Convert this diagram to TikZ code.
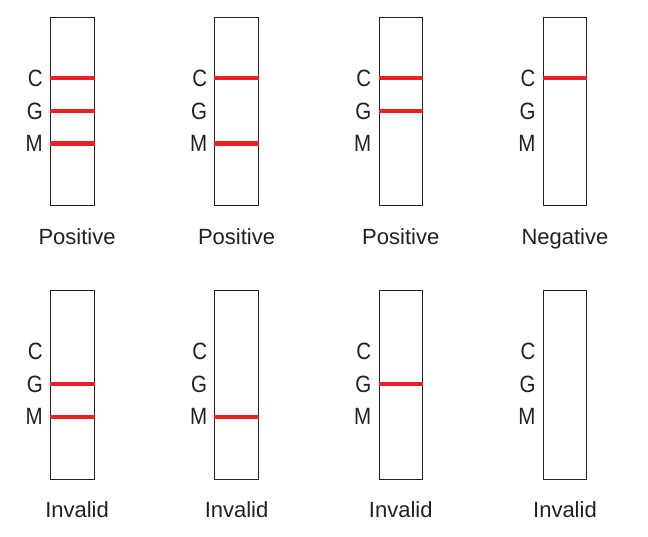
\documentclass[tikz,border=0pt]{standalone}
\usepackage{fontspec}
\setmainfont{Liberation Sans}
\definecolor{ink}{RGB}{35,31,32}
\definecolor{band}{RGB}{237,32,36}
\tikzset{
  stripbox/.style={draw=ink, line width=1pt, minimum width=43.5pt, minimum height=188.5pt, inner sep=0pt, anchor=north west},
  bandline/.style={draw=band, line width=4.2pt},
  letter/.style={text=ink, font=\fontsize{20.5}{20}\selectfont, anchor=east, inner sep=0pt, yscale=1.15},
  result/.style={text=ink, font=\fontsize{22}{22}\selectfont, anchor=base, inner sep=0pt}
}
\begin{document}
\begin{tikzpicture}[x=1pt,y=-1pt]
\useasboundingbox (0,0) rectangle (648,537);
\foreach \n/\xx/\yy/\c/\g/\m/\lab/\lx in {
  s1/50/16.7/1/1/1/Positive/4.8,
  s2/214.3/16.7/1/0/1/Positive/0,
  s3/378.5/16.7/1/1/0/Positive/0,
  s4/542.7/16.7/1/0/0/Negative/0,
  s5/50/290/0/1/1/Invalid/4.8,
  s6/214.3/290/0/0/1/Invalid/0,
  s7/378.5/290/0/1/0/Invalid/0,
  s8/542.7/290/0/0/0/Invalid/0}{
  \node[stripbox] (\n) at (\xx,\yy) {};
  \coordinate (\n c) at ([yshift=-61.5pt]\n.north west);
  \coordinate (\n g) at ([yshift=-94.3pt]\n.north west);
  \coordinate (\n m) at ([yshift=-126.8pt]\n.north west);
  \node[letter] (\n C) at ([xshift=-7pt]\n c) {C};
  \node[letter] (\n G) at ([xshift=-7pt]\n g) {G};
  \node[letter] (\n M) at ([xshift=-7pt]\n m) {M};
  \ifnum\c=1 \draw[bandline] (\n c) -- (\n c -| \n.east); \fi
  \ifnum\g=1 \draw[bandline] (\n g) -- (\n g -| \n.east); \fi
  \ifnum\m=1 \draw[bandline] (\n m) -- (\n m -| \n.east); \fi
  \node[result] (\n L) at ([xshift=\lx pt, yshift=-38pt]\n.south) {\lab};
}
\end{tikzpicture}
\end{document}
